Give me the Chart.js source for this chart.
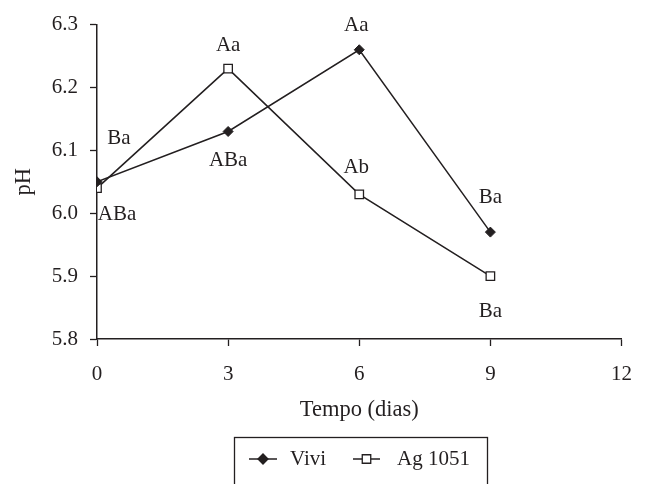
<!DOCTYPE html>
<html>
<head>
<meta charset="utf-8">
<script src="https://cdn.jsdelivr.net/npm/chart.js@4/dist/chart.umd.min.js"></script>
<style>
html,body{margin:0;padding:0;background:#fff}
#wrap{width:648px;height:484px;position:relative}
</style>
</head>
<body>
<div id="wrap"><canvas id="phChart" width="648" height="484"></canvas></div>
<script>
// DATA
const days=[0,3,6,9];
const viviPH=[6.05,6.13,6.26,5.97];
const agPH=[6.04,6.23,6.03,5.90];
const viviLetters=['Ba','ABa','Aa','Ba'];
const agLetters=['ABa','Aa','Ab','Ba'];
const xTicks=[0,3,6,9,12];
const yTicks=[5.8,5.9,6.0,6.1,6.2,6.3];

const INK='#231f20';
const FONT="'Liberation Serif','Times New Roman',serif";

// offsets of letter labels from their point (px)
const viviOff=[[22,-43],[0,29],[-3,-24],[0,-35]];
const agOff=[[20,26],[0,-23],[-3,-27],[0,35]];

const letterPlugin={
  id:'letters',
  afterDatasetsDraw(chart){
    const ctx=chart.ctx,xs=chart.scales.x,ys=chart.scales.y;
    ctx.save();
    ctx.font='21px '+FONT;ctx.fillStyle=INK;ctx.textAlign='center';ctx.textBaseline='middle';
    [[viviPH,viviLetters,viviOff],[agPH,agLetters,agOff]].forEach(([vals,lets,off])=>{
      vals.forEach((v,i)=>{
        ctx.fillText(lets[i],xs.getPixelForValue(days[i])+off[i][0],ys.getPixelForValue(v)+off[i][1]);
      });
    });
    ctx.restore();
  }
};

const legendPlugin={
  id:'boxLegend',
  afterDraw(chart){
    const ctx=chart.ctx;
    ctx.save();
    ctx.strokeStyle=INK;ctx.lineWidth=1.3;
    ctx.strokeRect(234.5,437.5,253,60);
    const y=459;
    const items=[
      {x0:249,x1:277,style:'rectRot',r:5,fill:INK,text:'Vivi',tx:290},
      {x0:353,x1:380,style:'rect',r:6,fill:'#fff',text:'Ag 1051',tx:397}
    ];
    items.forEach(it=>{
      ctx.beginPath();ctx.moveTo(it.x0,y);ctx.lineTo(it.x1,y);ctx.lineWidth=1.5;ctx.strokeStyle=INK;ctx.stroke();
      ctx.fillStyle=it.fill;ctx.strokeStyle=INK;ctx.lineWidth=1.3;
      Chart.helpers.drawPoint(ctx,{pointStyle:it.style,radius:it.r,rotation:0,borderWidth:1.3},(it.x0+it.x1)/2,y);
      ctx.fillStyle=INK;ctx.font='21px '+FONT;ctx.textAlign='left';ctx.textBaseline='middle';
      ctx.fillText(it.text,it.tx,y);
    });
    ctx.restore();
  }
};

const tickGrid={display:true,drawOnChartArea:false,drawTicks:true,tickLength:7,tickColor:INK,tickWidth:1.3};

new Chart(document.getElementById('phChart'),{
  type:'line',
  data:{datasets:[
    {label:'Vivi',data:days.map((d,i)=>({x:d,y:viviPH[i]})),borderColor:INK,borderWidth:1.5,
     pointStyle:'rectRot',pointRadius:5,pointBackgroundColor:INK,pointBorderColor:INK,pointBorderWidth:1,tension:0},
    {label:'Ag 1051',data:days.map((d,i)=>({x:d,y:agPH[i]})),borderColor:INK,borderWidth:1.5,
     pointStyle:'rect',pointRadius:6,pointBackgroundColor:'#fff',pointBorderColor:INK,pointBorderWidth:1.3,tension:0}
  ]},
  options:{
    responsive:false,animation:false,
    layout:{padding:{left:0,right:22,top:20,bottom:60}},
    plugins:{legend:{display:false},tooltip:{enabled:false}},
    scales:{
      x:{type:'linear',min:0,max:12,
        afterBuildTicks(s){s.ticks=xTicks.map(v=>({value:v}))},
        afterFit(s){s.height=85},
        grid:tickGrid,border:{display:true,color:INK,width:1.5},
        ticks:{color:INK,font:{family:FONT,size:21},padding:16,maxRotation:0},
        title:{display:true,text:'Tempo (dias)',color:INK,font:{family:FONT,size:22.5},padding:{top:0,bottom:0}}},
      y:{min:5.8,max:6.3,
        afterBuildTicks(s){s.ticks=yTicks.map(v=>({value:v}))},
        afterFit(s){s.width=97},
        grid:tickGrid,border:{display:true,color:INK,width:1.5},
        ticks:{color:INK,font:{family:FONT,size:21},padding:12,callback:v=>Number(v).toFixed(1)},
        title:{display:true,text:'pH',color:INK,font:{family:FONT,size:22.5},padding:{top:11,bottom:0}}}
    }
  },
  plugins:[letterPlugin,legendPlugin]
});
</script>
</body>
</html>
